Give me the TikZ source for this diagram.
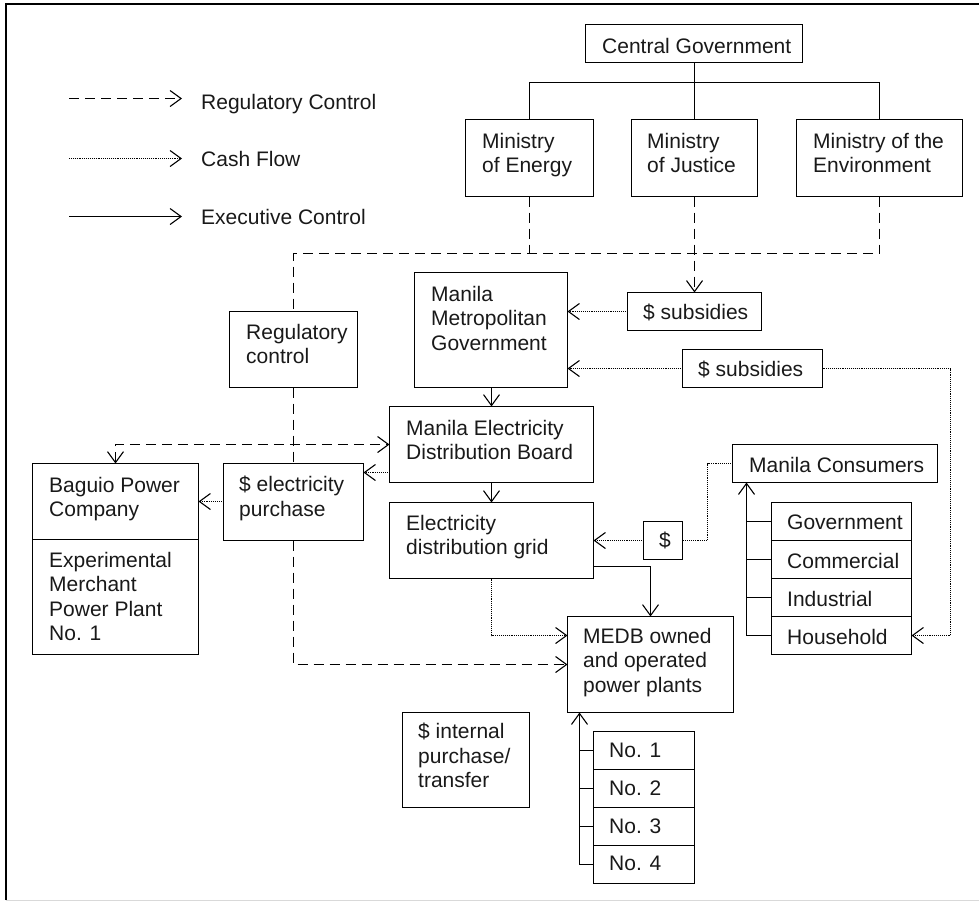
\documentclass[tikz,border=0pt]{standalone}
\usepackage{fontspec}
\setmainfont{Liberation Sans}
\usetikzlibrary{arrows.meta}

% rectangle with corners (x1,y1) and (x2,y2), y measured downwards
\newcommand\mkbox[5]{%
  \node[box, minimum width={(#4-#2)*1pt}, minimum height={(#5-#3)*1pt}] (#1) at (#2,#3) {};}
% left-aligned label whose first line starts at (x,ytop)
\newcommand\mktext[4]{%
  \node[txt] (#1) at (#2,#3) {#4};}

\begin{document}
\begin{tikzpicture}[x=1pt,y=-1pt,
  font={\fontsize{21}{24.3}\selectfont},
  >={Straight Barb[length=11pt,width=16pt,line width=1.1pt]},
  box/.style={draw, line width=1.2pt, rectangle, inner sep=0pt, outer sep=0pt, anchor=north west},
  txt/.style={anchor=north west, inner sep=0pt, align=left, text=black!90},
  regline/.style={line width=1.1pt, dash pattern=on 10pt off 6pt},
  cashline/.style={line width=0.9pt, dash pattern=on 0.9pt off 1pt},
  execline/.style={line width=1.1pt}]

\useasboundingbox (0,0) rectangle (979,903);

% frame
\draw[line width=1.3pt] (6,900) -- (6,4) -- (979,4);
\draw[line width=1pt, black!15] (6,900) -- (979,900);

% legend
\coordinate (la1) at (69,98.5);  \coordinate (lb1) at (182,98.5);
\coordinate (la2) at (69,158.5); \coordinate (lb2) at (182,158.5);
\coordinate (la3) at (69,216.5); \coordinate (lb3) at (182,216.5);
\draw[regline,->] (la1) -- (lb1);
\draw[cashline,->] (la2) -- (lb2);
\draw[execline,->] (la3) -- (lb3);
\node[anchor=base west, inner sep=0pt, text=black!90] (lt1) at (201,109) {Regulatory Control};
\node[anchor=base west, inner sep=0pt, text=black!90] (lt2) at (201,166) {Cash Flow};
\node[anchor=base west, inner sep=0pt, text=black!90] (lt3) at (201,224) {Executive Control};

% boxes
\mkbox{cg}{585.5}{24.5}{802.5}{62.5}
\mkbox{me}{465.5}{119.5}{593.5}{196.5}
\mkbox{mj}{631.5}{119.5}{757.5}{196.5}
\mkbox{mv}{796.5}{119.5}{962.5}{196.5}
\mkbox{rc}{229.5}{311.5}{357.5}{387.5}
\mkbox{ep}{223.5}{463.5}{363.5}{540.5}
\mkbox{bg}{32.5}{463.5}{198.5}{539.5}
\mkbox{ex}{32.5}{539.5}{198.5}{654.5}
\mkbox{mm}{414.5}{272.5}{567.5}{387.5}
\mkbox{sa}{627.5}{292.5}{761.5}{330.5}
\mkbox{sb}{682.5}{349.5}{822.5}{387.5}
\mkbox{mb}{389.5}{406.5}{593.5}{482.5}
\mkbox{dg}{389.5}{502.5}{593.5}{578.5}
\mkbox{mc}{732.5}{444.5}{937.5}{482.5}
\mkbox{dl}{643.5}{521.5}{682.5}{559.5}
\mkbox{gov}{771.5}{502.5}{911.5}{540.5}
\mkbox{com}{771.5}{540.5}{911.5}{578.5}
\mkbox{ind}{771.5}{578.5}{911.5}{616.5}
\mkbox{hh}{771.5}{616.5}{911.5}{654.5}
\mkbox{pp}{567.5}{616.5}{733.5}{712.5}
\mkbox{ip}{402.5}{712.5}{529.5}{807.5}
\mkbox{na}{593.5}{731.5}{694.5}{769.5}
\mkbox{nb}{593.5}{769.5}{694.5}{807.5}
\mkbox{nc}{593.5}{807.5}{694.5}{845.5}
\mkbox{nd}{593.5}{845.5}{694.5}{883.5}

% labels
\mktext{cg-t}{602}{38}{Central Government}
\mktext{me-t}{482}{133}{Ministry\\of Energy}
\mktext{mj-t}{647}{133}{Ministry\\of Justice}
\mktext{mv-t}{813}{133}{Ministry of the\\Environment}
\mktext{rc-t}{246}{324}{Regulatory\\control}
\mktext{ep-t}{239}{476}{\$ electricity\\purchase}
\mktext{bg-t}{49}{477}{Baguio Power\\Company}
\mktext{ex-t}{49}{552}{Experimental\\Merchant\\Power Plant\\No. 1}
\mktext{mm-t}{431}{286}{Manila\\Metropolitan\\Government}
\mktext{sa-t}{643}{304}{\$ subsidies}
\mktext{sb-t}{698}{361}{\$ subsidies}
\mktext{mb-t}{406}{420}{Manila Electricity\\Distribution Board}
\mktext{dg-t}{406}{515}{Electricity\\distribution grid}
\mktext{mc-t}{749}{457}{Manila Consumers}
\mktext{dl-t}{659}{532}{\$}
\mktext{gov-t}{787}{515}{Government}
\mktext{com-t}{787}{553}{Commercial}
\mktext{ind-t}{787}{591}{Industrial}
\mktext{hh-t}{787}{629}{Household}
\mktext{pp-t}{583}{628}{MEDB owned\\and operated\\power plants}
\mktext{ip-t}{418}{723}{\$ internal\\purchase/\\transfer}
\mktext{na-t}{609}{743}{No. 1}
\mktext{nb-t}{609}{781}{No. 2}
\mktext{nc-t}{609}{819}{No. 3}
\mktext{nd-t}{609}{856}{No. 4}

% government hierarchy
\coordinate (bus) at (694.5,82.5);
\draw[execline] (me.north) |- (bus) -| (mv.north);
\draw[execline] (mj.north) -- (mj.north |- cg.south);

% regulatory control
\coordinate (rbus) at (293.5,253.5);
\draw[regline] (mv.south) |- (rbus) -- (rc.north);
\draw[regline] (me.south) -- (me.south |- rbus);
\draw[regline,->] (mj.south) -- (mj.south |- sa.north);
\draw[regline] (rc.south) -- (ep.north);
\draw[regline,<->] (bg.north) |- (mb.west);
\draw[regline,->] (ep.south) |- (pp.west);

% cash flow
\draw[cashline,->] (sa.west) -- (sa.west -| mm.east);
\draw[cashline,->] (sb.west) -- (sb.west -| mm.east);
\coordinate (sc) at (950.5,368.5);
\draw[cashline,->] (sb.east) -- (sc) |- (hh.east);
\draw[cashline] (mc.west) -- ++(-25,0) |- (dl.east);
\draw[cashline,->] (dl.west) -- (dl.west -| dg.east);
\draw[cashline,->] ([yshift=-28pt]mb.west) -- ([yshift=-28pt]mb.west -| ep.east);
\draw[cashline,->] ([yshift=0.5pt]ep.west) -- ([yshift=0.5pt]ep.west -| bg.east);
\draw[cashline,->] (dg.south) |- ([yshift=29pt]pp.west);

% executive control
\draw[execline,->] (mm.south -| mb.north) -- (mb.north);
\draw[execline,->] (mb.south) -- (dg.north);
\draw[execline,->] ([yshift=-26pt]dg.east) -| (pp.north);

% consumer groups
\coordinate (cb) at (746.5,635.5);
\draw[execline,->] (cb) -- (cb |- mc.south);
\draw[execline] (cb) -- (hh.west);
\draw[execline] (gov.west) -- (gov.west -| cb);
\draw[execline] (com.west) -- (com.west -| cb);
\draw[execline] (ind.west) -- (ind.west -| cb);

% MEDB plants
\coordinate (pb) at (579.5,864.5);
\draw[execline,->] (pb) -- (pb |- pp.south);
\draw[execline] (pb) -- (nd.west);
\draw[execline] (na.west) -- (na.west -| pb);
\draw[execline] (nb.west) -- (nb.west -| pb);
\draw[execline] (nc.west) -- (nc.west -| pb);

\end{tikzpicture}
\end{document}
